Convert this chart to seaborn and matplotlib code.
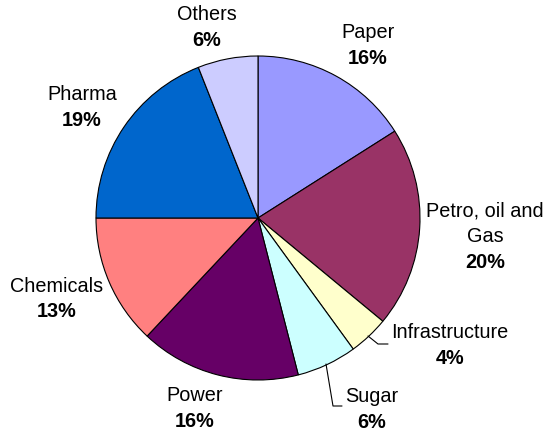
import matplotlib
matplotlib.use("Agg")
import matplotlib.pyplot as plt
import seaborn as sns

sns.set_theme(style="white")
plt.rcParams['font.family'] = ['Liberation Sans', 'DejaVu Sans']

categories = ["Paper", "Petro, oil and\nGas", "Infrastructure", "Sugar", "Power",
              "Chemicals", "Pharma", "Others"]
values = [16, 20, 4, 6, 16, 13, 19, 6]
colors = ["#9999FF", "#993366", "#FFFFCC", "#CCFFFF", "#660066",
          "#FF8080", "#0066CC", "#CCCCFF"]

W, H = 548, 435
fig = plt.figure(figsize=(W / 100, H / 100), dpi=100)
ax = fig.add_axes([0, 0, 1, 1])

cx, cy, R = 258, H - 219, 162
ax.pie(values, colors=colors, startangle=90, counterclock=False,
       center=(cx, cy), radius=R, frame=True,
       wedgeprops=dict(edgecolor="black", linewidth=0.8))
ax.set_xlim(0, W)
ax.set_ylim(0, H)
ax.set_aspect("equal")
ax.axis("off")

# label positions in pixel coords (x center, y of first line center)
label_pos = {
    "Paper": (368, 32),
    "Petro, oil and\nGas": (485, 211),
    "Infrastructure": (450, 333),
    "Sugar": (372, 397),
    "Power": (195, 396),
    "Chemicals": (57, 286),
    "Pharma": (82, 95),
    "Others": (207, 15),
}
fs = 14.3
lh = 26
for cat, v in zip(categories, values):
    x, y = label_pos[cat]
    lines = cat.split("\n")
    for i, line in enumerate(lines):
        ax.text(x, H - (y + lh * i), line, ha="center", va="center",
                fontsize=fs, color="black")
    ax.text(x, H - (y + lh * len(lines)), f"{v}%", ha="center", va="center",
            fontsize=fs, fontweight="bold", color="black")

# leader lines
ax.plot([368, 378, 388], [H - 337, H - 345, H - 345], color="black", lw=0.8)
ax.plot([326, 333, 342], [H - 365, H - 407, H - 407], color="black", lw=0.8)

fig.savefig("out.png", dpi=100, facecolor="white")
